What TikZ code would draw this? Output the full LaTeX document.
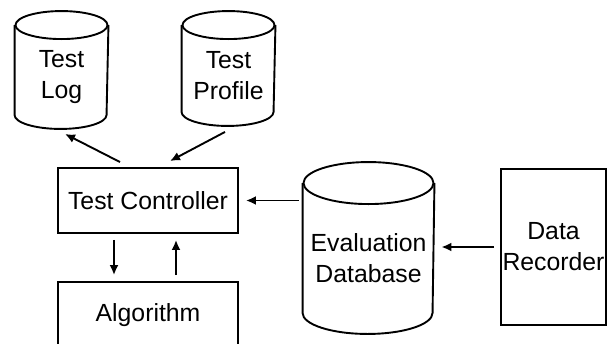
\documentclass[tikz,border=0pt]{standalone}
\usepackage{fontspec}
\setmainfont{Liberation Sans}
\usetikzlibrary{arrows.meta}

% cylinder drawn round the body of node #1, cap radii #2 and #3
\newcommand\drum[3]{%
  \draw ([yshift=#3]#1.north west) -- (#1.south west)
    arc[start angle=180,end angle=360,x radius=#2,y radius=#3] -- ([yshift=#3]#1.north east);
  \draw ([yshift=#3]#1.north) ellipse[x radius=#2,y radius=#3];}

\begin{document}
\begin{tikzpicture}[x=1pt,y=-1pt,>={Latex[length=10pt,width=9pt]},line width=1.9pt,font=\fontsize{24.8pt}{31pt}\selectfont,
  box/.style={draw,align=center,inner sep=0pt},
  store/.style={align=center,inner sep=0pt}]

\useasboundingbox (0,0) rectangle (608,343);
\clip (0,0) rectangle (608,343);

% stores
\node[store,minimum width=92pt,minimum height=74pt] (log) at (61.5,77) {Test\\Log};
\node[store,minimum width=92pt,minimum height=71pt] (prof) at (228.5,75.5) {Test\\Profile};
\node[store,minimum width=130pt,minimum height=107pt] (eval) at (368.5,258.5) {Evaluation\\Database};
\drum{log}{46pt}{14pt}
\drum{prof}{46pt}{14pt}
\drum{eval}{65pt}{21pt}

% boxes
\node[box,minimum width=180pt,minimum height=65pt] (ctrl) at (148,200.5) {Test Controller};
\node[box,minimum width=180pt,minimum height=66pt] (algo) at (148,315) {Algorithm};
\node[box,minimum width=105pt,minimum height=156pt] (rec) at (553.5,247) {Data\\Recorder};

\draw[->] ([xshift=-28pt,yshift=5pt]ctrl.north) -- ([xshift=3.5pt,yshift=-19pt]log.south);
\draw[->] ([xshift=-3.5pt,yshift=-20pt]prof.south) -- ([xshift=22pt,yshift=6pt]ctrl.north);
\draw[->] ([xshift=-34pt,yshift=-6pt]ctrl.south) -- ([xshift=-34pt,yshift=6pt]algo.north);
\draw[->] ([xshift=28pt,yshift=6pt]algo.north) -- ([xshift=28pt,yshift=-6pt]ctrl.south);
\draw[->] ([xshift=-4pt]eval.west |- ctrl.east) -- ([xshift=7pt]ctrl.east);
\draw[->] ([xshift=-6pt]rec.west) -- ([xshift=7pt]eval.east |- rec.west);

\end{tikzpicture}
\end{document}
